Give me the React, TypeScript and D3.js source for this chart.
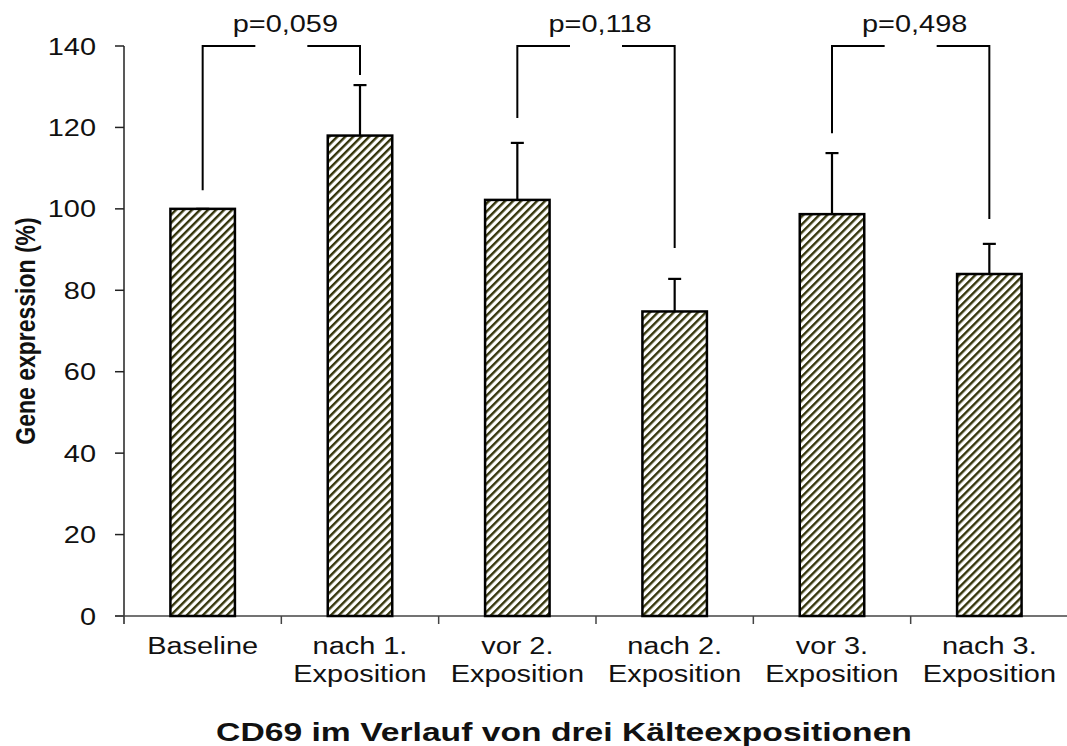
import React from "react";
import * as d3 from "d3";

// Gene expression of CD69 across the cold exposure series
const categories: string[][] = [
  ["Baseline"],
  ["nach 1.", "Exposition"],
  ["vor 2.", "Exposition"],
  ["nach 2.", "Exposition"],
  ["vor 3.", "Exposition"],
  ["nach 3.", "Exposition"],
];
const means: number[] = [100, 118, 102.2, 74.8, 98.7, 84];
const errors: number[] = [0, 12.4, 14, 8, 15, 7.4];
const yTicks: number[] = [0, 20, 40, 60, 80, 100, 120, 140];

// Significance brackets: from category index to category index, with the
// level where each leg ends
const bracketFrom: number[] = [0, 2, 4];
const bracketTo: number[] = [1, 3, 5];
const bracketFromEnd: number[] = [104.6, 122.3, 118.6];
const bracketToEnd: number[] = [132.9, 90.4, 97.5];
const bracketLabels: string[] = ["p=0,059", "p=0,118", "p=0,498"];

const W = 1067;
const H = 746;
const FONT = "'Liberation Sans', Arial, Helvetica, sans-serif";
const SX = 1.23; // horizontal widening of the lettering

export default function App() {
  const keys = categories.map((_, i) => String(i));
  const x = d3.scaleBand<string>().domain(keys).range([124, 1068]).paddingInner(0.59).paddingOuter(0.295);
  const band = d3.scaleBand<string>().domain(keys).range([124, 1068]);
  const y = d3.scaleLinear().domain([0, 140]).range([616, 46]);
  const cx = (i: number) => band(String(i))! + band.bandwidth() / 2;

  const txt = (
    key: string,
    tx: number,
    ty: number,
    content: string,
    opts: { size?: number; weight?: string; anchor?: string; rotate?: number; sx?: number } = {}
  ) => (
    <text
      key={key}
      transform={`translate(${tx},${ty}) scale(${opts.sx ?? SX},1)${opts.rotate ? ` rotate(${opts.rotate})` : ""}`}
      fontFamily={FONT}
      fontSize={opts.size ?? 23.5}
      fontWeight={opts.weight ?? "normal"}
      textAnchor={opts.anchor ?? "middle"}
      fill="#111"
    >
      {content}
    </text>
  );

  return (
    <div style={{ position: "absolute", left: 0, top: 0 }}>
      <svg width={W} height={H} style={{ display: "block", background: "#fff" }}>
        <defs>
          <pattern
            id="hatch"
            patternUnits="userSpaceOnUse"
            width={5.66}
            height={5.66}
            patternTransform="rotate(45)"
          >
            <rect width={5.66} height={5.66} fill="#fff" />
            <rect x={0} y={0} width={2.4} height={5.66} fill="#34340a" />
          </pattern>
        </defs>

        {/* y axis */}
        <line x1={124} x2={124} y1={y(140)} y2={624} stroke="#222" strokeWidth={1.5} />
        {yTicks.map((t) => (
          <g key={`yt${t}`}>
            <line x1={115} x2={124} y1={y(t)} y2={y(t)} stroke="#222" strokeWidth={1.5} />
            {txt(`yl${t}`, 96, y(t) + 8.5, String(t), { anchor: "end" })}
          </g>
        ))}

        {/* x axis */}
        <line x1={115} x2={W} y1={y(0)} y2={y(0)} stroke="#444" strokeWidth={1.5} />
        {keys.slice(1).map((k) => (
          <line key={`xt${k}`} x1={band(k)!} x2={band(k)!} y1={y(0)} y2={624} stroke="#444" strokeWidth={1.5} />
        ))}

        {/* bars */}
        {means.map((m, i) => (
          <rect
            key={`b${i}`}
            x={x(String(i))!}
            y={y(m)}
            width={x.bandwidth()}
            height={y(0) - y(m)}
            fill="url(#hatch)"
            stroke="#000"
            strokeWidth={2.5}
          />
        ))}

        {/* error bars (upper) */}
        {means.map((m, i) => {
          const c = cx(i);
          const top = y(m + errors[i]);
          return (
            <g key={`e${i}`} stroke="#000" strokeWidth={2.2}>
              <line x1={c} x2={c} y1={y(m)} y2={top} />
              <line x1={c - 6.5} x2={c + 6.5} y1={top} y2={top} />
            </g>
          );
        })}

        {/* significance brackets */}
        {bracketLabels.map((lab, i) => {
          const x1 = cx(bracketFrom[i]);
          const x2 = cx(bracketTo[i]);
          const mid = (x1 + x2) / 2;
          const top = y(140);
          return (
            <g key={`br${i}`}>
              <path
                d={`M${x1},${y(bracketFromEnd[i])}V${top}H${mid - 26}M${mid + 26},${top}H${x2}V${y(bracketToEnd[i])}`}
                fill="none"
                stroke="#000"
                strokeWidth={2}
              />
              {txt(`bl${i}`, mid + 4, 32, lab)}
            </g>
          );
        })}

        {/* category labels */}
        {categories.map((lines, i) =>
          lines.map((ln, j) => txt(`cl${i}-${j}`, cx(i), 654 + j * 28, ln))
        )}

        {/* axis titles */}
        {txt("ytitle", 35, 331, "Gene expression (%)", { size: 23, weight: "bold", rotate: -90 })}
        {txt("xtitle", 564, 741, "CD69 im Verlauf von drei Kälteexpositionen", { size: 25.5, weight: "bold", sx: 1.32 })}
      </svg>
    </div>
  );
}
